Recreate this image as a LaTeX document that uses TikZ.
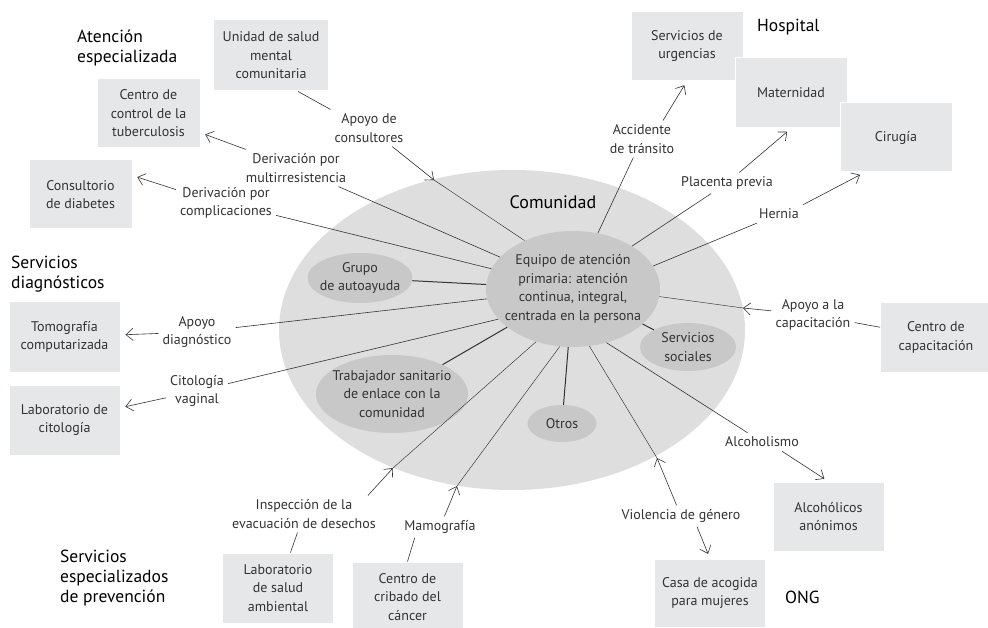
\documentclass[tikz,border=0pt]{standalone}
\usepackage{fontspec}
\setmainfont{PT Sans}
\usetikzlibrary{shapes.geometric,arrows.meta}
\definecolor{commgray}{RGB}{222,222,223}
\definecolor{blobgray}{RGB}{200,200,201}
\definecolor{boxgray}{RGB}{230,231,232}
\definecolor{ink}{RGB}{51,51,51}
\newcommand{\txtsize}{\fontsize{14}{18.5}\selectfont}
\newcommand{\headsize}{\fontsize{17.5}{20}\selectfont}
\newcommand{\drawsolid}{\draw[line width=1pt,ink]}
\tikzset{
  box/.style={rectangle,fill=boxgray,draw=white,line width=1pt,minimum width=111pt,
    minimum height=70pt,inner sep=0pt,align=center,text=ink,font=\txtsize},
  blob/.style={ellipse,fill=blobgray,inner sep=0pt},
  blobtext/.style={align=center,text=ink,font=\txtsize,inner sep=0pt},
  lbl/.style={align=center,text=ink,font=\txtsize,inner sep=4pt},
  head/.style={anchor=west,align=left,font=\headsize,inner sep=0pt},
  link/.style={ink,line width=0.6pt},
  thinlink/.style={ink,line width=0.45pt},
  arr/.style={link,-{Straight Barb[length=7pt,width=12pt]}},
  tobox/.style={arr,shorten >=5pt}
}

\begin{document}
\begin{tikzpicture}[x=1pt,y=-1pt]
\useasboundingbox (0,0) rectangle (988,628);
\fill[white] (0,0) rectangle (988,628);

% community and the teams inside it
\node[ellipse,fill=commgray,minimum width=466pt,minimum height=320pt,inner sep=0pt] (com) at (512,330) {};
\node[font=\fontsize{18}{20}\selectfont] (comlbl) at (553,202) {Comunidad};
\node[blob,minimum width=174pt,minimum height=116pt] (eq) at (573,289) {};
\node[blobtext] (eqt) at (eq) {Equipo de atención\\primaria: atención\\continua, integral,\\centrada en la persona};
\node[blob,minimum width=105pt,minimum height=50pt] (grupo) at (360,278) {};
\node[blobtext] (grupot) at (grupo) {Grupo\\de autoayuda};
\node[blob,minimum width=152pt,minimum height=78pt] (trab) at (392,394) {};
\node[blobtext] (trabt) at (trab) {Trabajador sanitario\\de enlace con la\\comunidad};
\node[blob,minimum width=69pt,minimum height=37pt] (otros) at (562,423.5) {};
\node[blobtext] (otrost) at (otros) {Otros};
\node[blob,minimum width=96pt,minimum height=48pt] (servs) at (688,347) {};
\node[blobtext] (servst) at (servs) {Servicios\\sociales};

% group titles
\node[head] (hatenc) at (77,48) {Atención\\especializada};
\node[head] (hhosp) at (757,27) {Hospital};
\node[head] (hdiag) at (11,274) {Servicios\\diagnósticos};
\node[head] (hprev) at (60,578) {Servicios\\especializados\\de prevención};
\node[head] (hong) at (785,597) {ONG};

% services
\node[box,minimum width=115pt,minimum height=71pt] (unidad) at (271,55.5) {Unidad de salud\\mental\\comunitaria};
\node[box,minimum width=103pt,minimum height=69pt] (tuber) at (148.5,113.5) {Centro de\\control de la\\tuberculosis};
\node[box,minimum width=103pt,minimum height=69pt] (diab) at (80.5,194.5) {Consultorio\\de diabetes};
\node[box] (tomo) at (64.5,337) {Tomografía\\computarizada};
\node[box] (citol) at (64.5,420) {Laboratorio de\\citología};
\node[box] (ambient) at (278,588) {Laboratorio\\de salud\\ambiental};
\node[box] (cribado) at (407.5,597) {Centro de\\cribado del\\cáncer};
\node[box,minimum height=68pt] (casa) at (710,593) {Casa de acogida\\para mujeres};
\node[box,minimum height=69pt] (alcoh) at (828.5,516.5) {Alcohólicos\\anónimos};
\node[box,minimum height=69pt] (capac) at (936,337.5) {Centro de\\capacitación};
\node[box,minimum width=112pt,minimum height=69pt] (urgen) at (687,46) {Servicios de\\urgencias};
\node[box,minimum width=112pt] (matern) at (791,93) {Maternidad};
\node[box,minimum width=112pt,minimum height=69pt] (cirugia) at (896,137.5) {Cirugía};

% labels on the spokes
\node[lbl] (lconsult) at (369,128) {Apoyo de\\consultores};
\node[lbl] (lmulti) at (296,168) {Derivación por\\multirresistencia};
\node[lbl] (lcompl) at (226,203) {Derivación por\\complicaciones};
\node[lbl] (ldiag) at (197,332) {Apoyo\\diagnóstico};
\node[lbl] (lcito) at (197,391) {Citología\\vaginal};
\node[lbl] (linsp) at (304,514) {Inspección de la\\evacuación de desechos};
\node[lbl] (lmamo) at (440,527) {Mamografía};
\node[lbl] (lviol) at (681,516) {Violencia de género};
\node[lbl] (lalco) at (762,442) {Alcoholismo};
\node[lbl] (lcapac) at (813,315) {Apoyo a la\\capacitación};
\node[lbl] (lhern) at (779,214) {Hernia};
\node[lbl] (lplac) at (727,183) {Placenta previa};
\node[lbl] (lacc) at (642,139) {Accidente\\de tránsito};

% arrow tips on the edge of the community
\coordinate (tipA) at (434,180);
\coordinate (tipH) at (393,468);
\coordinate (tipI) at (457,486);
\coordinate (tipK) at (657,458);
\coordinate (tipN) at (743,308);

% spokes
\draw[link] (unidad.-53) -- (lconsult.north west);
\draw[arr] (lconsult) -- (tipA);
\draw[thinlink] (tipA) -- (eq.135);
\draw[link] (eq) -- (lmulti);
\draw[tobox] (lmulti) -- (tuber);
\draw[link] (eq) -- (lcompl);
\draw[tobox] (lcompl.165) -- (diab.20);
\draw[link] (eq) -- (ldiag);
\draw[tobox] (ldiag) -- (tomo);
\draw[link] (eq.202) -- (lcito);
\draw[tobox] (lcito) -- (citol);
\draw[link] (ambient) -- (linsp);
\draw[arr] ([xshift=-12pt]linsp.north east) -- (tipH);
\draw[thinlink] (tipH) -- (eq.-125);
\draw[link] (cribado.north) -- (lmamo.-157);
\draw[arr] (lmamo) -- (tipI);
\draw[thinlink] (tipI) -- (eq.-103);
\draw[thinlink] (eq.-74) -- (tipK);
\draw[arr] (lviol) -- (tipK);
\draw[tobox] ([xshift=16pt]lviol.south) -- (casa.north);
\draw[link] (eq.-58) -- (lalco);
\draw[tobox] ([xshift=20pt]lalco.south) -- (alcoh.north);
\draw[link] (capac) -- (lcapac);
\draw[arr] (lcapac) -- (tipN);
\draw[thinlink] (tipN) -- (eq.-5);
\draw[link] (eq.16) -- (lhern);
\draw[tobox] (lhern.north east) -- (cirugia.-132);
\draw[link] (eq.36) -- (lplac);
\draw[tobox] (lplac) -- (matern.south);
\draw[link] (eq.66) -- (lacc);
\draw[tobox] ([xshift=21pt]lacc.north) -- (urgen.south);
\drawsolid (grupo) -- (eq);
\drawsolid (trab) -- (eq);
\drawsolid (otros) -- (eq);
\drawsolid (servs) -- (eq);
\end{tikzpicture}
\end{document}
